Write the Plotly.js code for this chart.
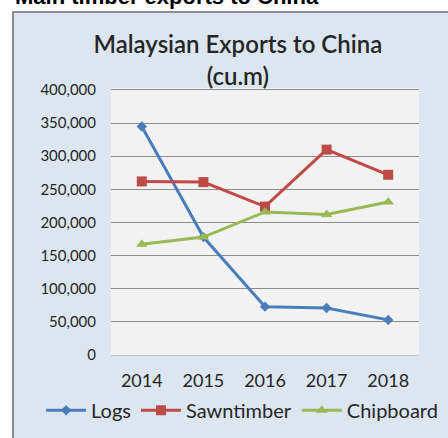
<!DOCTYPE html>
<html>
<head>
<meta charset="utf-8">
<script src="https://cdn.plot.ly/plotly-3.0.1.min.js"></script>
<style>
  body { margin: 0; width: 448px; height: 438px; overflow: hidden; background: #fff; position: relative; }
  #heading { position: absolute; left: 15px; top: -16px; font: bold 22px "Liberation Sans", Arial, sans-serif; color: #000; white-space: nowrap; }
  #frame { position: absolute; left: 12px; top: 11px; width: 440px; height: 440px; border-left: 2px solid #8c8c8c; border-top: 2px solid #8c8c8c; background: #dce6f1; }
  #chart { position: absolute; left: 0; top: 0; width: 434px; height: 425px; }
</style>
</head>
<body>
<div id="heading">Main timber exports to China</div>
<div id="frame"><div id="chart"></div></div>
<script>
const years = ["2014", "2015", "2016", "2017", "2018"];
const logs = [345000, 178000, 73000, 71000, 53000];
const sawntimber = [262000, 261000, 224000, 310000, 272000];
const chipboard = [167000, 178000, 216000, 212000, 231000];
const tickVals = [0, 50000, 100000, 150000, 200000, 250000, 300000, 350000, 400000];
const tickText = ["0", "50,000", "100,000", "150,000", "200,000", "250,000", "300,000", "350,000", "400,000"];

const font = "Lato, 'Open Sans', sans-serif";

function series(name, y, color, symbol, size) {
  return {
    x: years, y: y, name: name,
    type: "scatter", mode: "lines+markers",
    line: { color: color, width: 3 },
    marker: { color: color, symbol: symbol, size: size },
  };
}

Plotly.newPlot(
  "chart",
  [
    series("Logs", logs, "#4a7ebb", "diamond", 8),
    series("Sawntimber", sawntimber, "#be4b48", "square", 10),
    series("Chipboard", chipboard, "#98b954", "triangle-up", 10),
  ],
  {
    width: 434,
    height: 425,
    margin: { t: 75, l: 97, r: 29, b: 83, autoexpand: false },
    paper_bgcolor: "rgba(0,0,0,0)",
    plot_bgcolor: "#f2f2f2",
    font: { family: font, color: "#262626" },
    showlegend: true,
    title: {
      text: "Malaysian Exports to China<br>(cu.m)",
      font: { size: 24, family: font, color: "#262626", weight: 600 },
      xref: "paper", x: 0.412, xanchor: "center",
      yref: "container", y: 0.905, yanchor: "top",
    },
    xaxis: {
      type: "category",
      showgrid: false,
      showline: false,
      ticks: "",
      tickfont: { size: 18, color: "#262626" },
      range: [-0.5, 4.5],
      ticklabelstandoff: 13,
    },
    yaxis: {
      range: [0, 403000],
      tickvals: tickVals,
      ticktext: tickText,
      tickfont: { size: 15, color: "#262626" },
      showgrid: true,
      gridcolor: "#8c8c8c",
      gridwidth: 1,
      zeroline: true,
      zerolinecolor: "#bfbfbf",
      ticks: "",
      ticklabelstandoff: 14,
    },
    legend: {
      orientation: "h",
      x: -0.227, xanchor: "left", xref: "paper",
      y: -0.207, yanchor: "middle", yref: "paper",
      font: { size: 20, color: "#262626" },
      bgcolor: "rgba(0,0,0,0)",
      itemwidth: 40,
      tracegroupgap: 0,
    },
  },
  { displayModeBar: false }
);
</script>
</body>
</html>
